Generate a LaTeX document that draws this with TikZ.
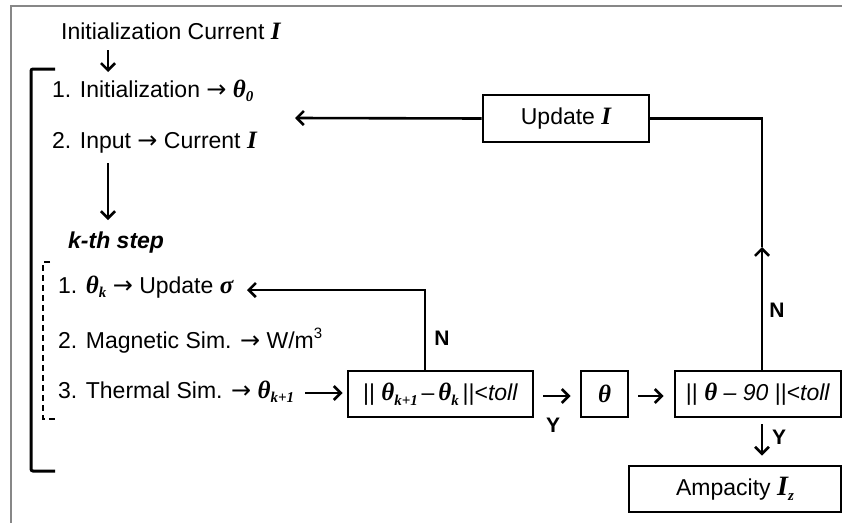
\documentclass[tikz,border=0pt]{standalone}
\usepackage{fontspec}
\setmainfont{Liberation Sans}
\newfontfamily\symfont{Liberation Serif}
\newfontfamily\arrowfont{DejaVu Sans}
\usetikzlibrary{arrows.meta}
% bold italic serif symbols and their subscripts
\newcommand\msym[1]{{\fontsize{25}{25}\selectfont\symfont\bfseries\itshape #1}}
\newcommand\msub[1]{\raisebox{-0.4ex}{\fontsize{15}{15}\selectfont\symfont\bfseries\itshape #1}}
\newcommand\rarr{{\arrowfont\fontsize{24}{24}\selectfont →}}
\newcommand\cube{\raisebox{0.75ex}{\fontsize{15}{15}\selectfont 3}}
\tikzset{
  txt/.style={inner sep=0pt, anchor=base west, font=\fontsize{23}{26}\selectfont},
  box/.style={draw, line width=2.8pt, inner sep=0pt, minimum height=46pt, font=\fontsize{23}{26}\selectfont},
  yn/.style={inner sep=0pt, font=\fontsize{21}{24}\selectfont\bfseries},
  arr/.style={line width=2.6pt, -{Straight Barb[length=7pt,width=14pt]}},
  ln/.style={line width=2.6pt},
}
\begin{document}
\begin{tikzpicture}[x=1pt,y=-1pt]
\useasboundingbox (0,0) rectangle (842,522);
% frame
\draw[line width=2.6pt, color=black!47] (11,523) -- (11,6) -- (843,6);

% initial part
\node[txt] (initc) at (61,39) {Initialization Current \msym{I}};
\node[txt] (s1) at (52,97) {1. Initialization \rarr\ \msym{θ}\msub{0}};
\node[txt] (s2) at (52,148) {2. Input \rarr\ Current \msym{I}};
\node[txt, font=\fontsize{23}{26}\selectfont\bfseries\itshape] (kth) at (68,248) {k-th step};

% k-th step
\node[txt] (k1) at (58,293) {1. \msym{θ}\msub{k} \rarr\ Update \msym{σ}};
\node[txt] (k2) at (58,348) {2. Magnetic Sim. \rarr\ W/m\cube};
\node[txt] (k3) at (58,398) {3. Thermal Sim. \rarr\ \msym{θ}\msub{k+1}};

% brackets
\draw[line width=3pt, rounded corners=2pt] (55,69) -- (31,69) -- (31,471) -- (55,471);
\draw[line width=2pt, dash pattern=on 6pt off 4pt] (50,262) -- (43,262) -- (43,419) -- (55,419);

% boxes
\node[box, minimum width=185pt] (chk1) at (440.5,394) {|| \msym{θ}\msub{k+1}\,–\,\msym{θ}\msub{k}\,||<\textit{toll}};
\node[box, minimum width=47pt] (th) at (604.5,394) {\msym{θ}};
\node[box, minimum width=166pt] (chk2) at (758,394) {|| \msym{θ} \textit{– 90} ||<\textit{toll}};
\node[box, minimum width=166pt, minimum height=47pt] (upd) at (566,118.5) {Update \msym{I}};
\node[box, minimum width=212pt] (amp) at (735,489) {Ampacity \msym{\fontsize{28}{28}\selectfont I}\msub{z}};

% connector end points
\coordinate (a0s) at (108,50);
\coordinate (a0e) at (108,72);
\coordinate (a1s) at (108,163);
\coordinate (a1e) at (108,220);
\coordinate (updtip) at (295,118);
\coordinate (fb) at (425,290);
\coordinate (fbtip) at (247,290);
\coordinate (k3s) at (305,393);
\coordinate (uptip) at (762,247);

% connectors
\draw[arr] (a0s) -- (a0e);
\draw[arr] (a1s) -- (a1e);
\draw[arr] (upd.west) -- (updtip);
\draw[arr] (chk1.north -| fb) -- (fb) -- (fbtip);
\draw[arr, shorten >=4pt] (k3s) -- (k3s -| chk1.west);
\draw[arr, shorten <=9pt, shorten >=9pt] ([yshift=-2pt]chk1.east) -- ([yshift=-2pt]th.west);
\draw[arr, shorten <=9pt, shorten >=10pt] ([yshift=-2pt]th.east) -- ([yshift=-2pt]chk2.west);
\draw[arr] (chk2.north -| uptip) -- (uptip);
\draw[ln] (uptip) |- (upd.east);
\draw[arr, shorten <=6pt, shorten >=9pt] (chk2.south -| uptip) -- (amp.north -| uptip);

% branch labels
\node[yn] (n1) at (442,338) {N};
\node[yn] (y1) at (553,425) {Y};
\node[yn] (n2) at (777,310) {N};
\node[yn] (y2) at (779,437) {Y};
\end{tikzpicture}
\end{document}
